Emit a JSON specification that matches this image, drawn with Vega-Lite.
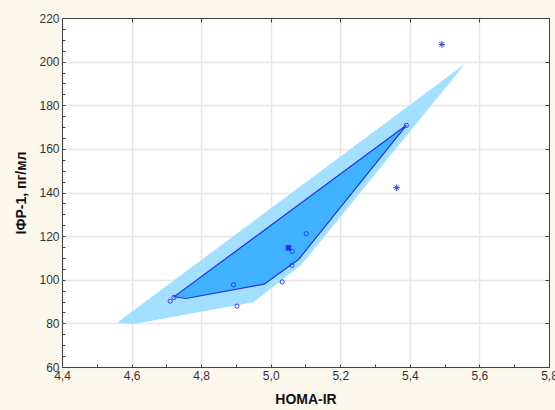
{
  "$schema": "https://vega.github.io/schema/vega-lite/v6.json",
  "autosize": {"type": "none"},
  "width": 487,
  "height": 349,
  "padding": {"left": 62, "top": 18, "right": 6, "bottom": 43},
  "background": "#FDF8EC",
  "config": {
    "view": {"fill": "white", "stroke": "#444", "strokeWidth": 1},
    "axis": {
      "labelFont": "Liberation Sans",
      "labelFontSize": 12,
      "labelColor": "#333",
      "titleFont": "Liberation Sans",
      "titleFontSize": 14,
      "titleFontWeight": "bold",
      "titleColor": "#111",
      "domainColor": "#444",
      "tickColor": "#444"
    }
  },
  "datasets": {
    "outer": [
      {"x": 4.559, "y": 80.4, "o": 1},
      {"x": 4.602, "y": 79.6, "o": 2},
      {"x": 4.950, "y": 89.7, "o": 3},
      {"x": 5.089, "y": 107.0, "o": 4},
      {"x": 5.559, "y": 199.0, "o": 5}
    ],
    "bag": [
      {"x": 4.722, "y": 92.2, "o": 1},
      {"x": 4.756, "y": 91.4, "o": 2},
      {"x": 4.981, "y": 98.0, "o": 3},
      {"x": 5.080, "y": 109.3, "o": 4},
      {"x": 5.390, "y": 170.8, "o": 5}
    ],
    "pts": [
      {"x": 4.711, "y": 90.2, "kind": "obs"},
      {"x": 4.722, "y": 91.9, "kind": "obs"},
      {"x": 4.893, "y": 97.7, "kind": "obs"},
      {"x": 4.903, "y": 87.9, "kind": "obs"},
      {"x": 5.033, "y": 99.0, "kind": "obs"},
      {"x": 5.061, "y": 106.6, "kind": "obs"},
      {"x": 5.062, "y": 113.0, "kind": "obs"},
      {"x": 5.102, "y": 121.1, "kind": "obs"},
      {"x": 5.390, "y": 170.8, "kind": "obs"},
      {"x": 5.492, "y": 207.9, "kind": "outlier"},
      {"x": 5.362, "y": 142.2, "kind": "outlier"},
      {"x": 5.051, "y": 114.6, "kind": "median"}
    ]
  },
  "resolve": {"axis": {"x": "independent", "y": "independent"}},
  "layer": [
    {
      "data": {"name": "outer"},
      "mark": {"type": "line", "interpolate": "linear-closed", "fill": "#A3E0FF", "stroke": null, "strokeWidth": 0},
      "encoding": {
        "x": {"field": "x", "type": "quantitative", "scale": {"domain": [4.4, 5.8], "nice": false, "zero": false},
          "axis": {"orient": "bottom", "title": "HOMA-IR", "grid": false, "values": [4.4,4.5,4.6,4.7,4.8,4.9,5.0,5.1,5.2,5.3,5.4,5.5,5.6,5.7,5.8],
            "labelExpr": "abs(round(datum.value*10) % 2) == 0 ? replace(format(datum.value, '.1f'), '.', ',') : ''",
            "tickSize": -3, "labelPadding": 6, "titlePadding": 11, "zindex": 1, "labelFlush": false, "labelOverlap": false}},
        "y": {"field": "y", "type": "quantitative", "scale": {"domain": [60, 220], "nice": false, "zero": false},
          "axis": {"orient": "left", "title": "IФР-1, пг/мл", "grid": false, "values": [60,65,70,75,80,85,90,95,100,105,110,115,120,125,130,135,140,145,150,155,160,165,170,175,180,185,190,195,200,205,210,215,220],
            "labelExpr": "datum.value % 20 == 0 ? format(datum.value, 'd') : ''",
            "tickSize": -3, "labelPadding": 6, "titlePadding": 10, "zindex": 1, "labelFlush": false, "labelOverlap": false}},
        "order": {"field": "o", "type": "quantitative"}
      }
    },
    {
      "data": {"name": "bag"},
      "mark": {"type": "line", "interpolate": "linear-closed", "fill": "#40B2FF", "stroke": "#1E32F0", "strokeWidth": 1.2},
      "encoding": {
        "x": {"field": "x", "type": "quantitative",
          "axis": {"orient": "top", "title": null, "labels": false, "grid": true, "gridColor": "#E6E6E6", "gridWidth": 1.5, "values": [4.4,4.6,4.8,5.0,5.2,5.4,5.6,5.8], "tickSize": -4, "domain": true, "zindex": 0}},
        "y": {"field": "y", "type": "quantitative",
          "axis": {"orient": "right", "title": null, "labels": false, "grid": true, "gridColor": "#E6E6E6", "gridWidth": 1.5, "values": [60,80,100,120,140,160,180,200,220], "tickSize": -4, "domain": true, "zindex": 0}},
        "order": {"field": "o", "type": "quantitative"}
      }
    },
    {
      "data": {"name": "pts"},
      "transform": [{"filter": "datum.kind == 'obs'"}],
      "mark": {"type": "point", "shape": "circle", "filled": false, "size": 18, "color": "#2F3CFF", "strokeWidth": 1, "opacity": 1},
      "encoding": {
        "x": {"field": "x", "type": "quantitative", "axis": null},
        "y": {"field": "y", "type": "quantitative", "axis": null}
      }
    },
    {
      "data": {"name": "pts"},
      "transform": [{"filter": "datum.kind == 'outlier'"}],
      "mark": {"type": "point", "shape": "M-1,0L1,0M0,-1L0,1M-0.7,-0.7L0.7,0.7M-0.7,0.7L0.7,-0.7", "filled": false, "size": 45, "color": "#2F3CFF", "strokeWidth": 1, "opacity": 1},
      "encoding": {
        "x": {"field": "x", "type": "quantitative", "axis": null},
        "y": {"field": "y", "type": "quantitative", "axis": null}
      }
    },
    {
      "data": {"name": "pts"},
      "transform": [{"filter": "datum.kind == 'median'"}],
      "mark": {"type": "point", "shape": "square", "filled": true, "size": 30, "color": "#1E32F0", "opacity": 1},
      "encoding": {
        "x": {"field": "x", "type": "quantitative", "axis": null},
        "y": {"field": "y", "type": "quantitative", "axis": null}
      }
    }
  ]
}
